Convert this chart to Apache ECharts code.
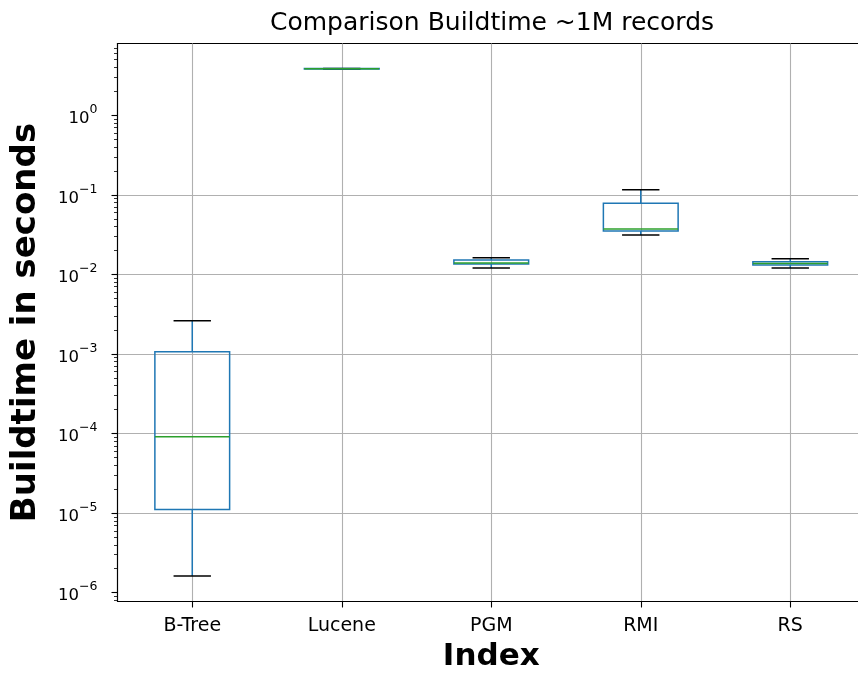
<!DOCTYPE html>
<html>
<head>
<meta charset="utf-8">
<script src="https://cdn.jsdelivr.net/npm/echarts@6/dist/echarts.min.js"></script>
<style>
  html, body { margin: 0; padding: 0; background: #ffffff; }
  #chart { width: 858px; height: 675px; }
</style>
</head>
<body>
<div id="chart"></div>
<script>
// Index structures compared
const categories = ['B-Tree', 'Lucene', 'PGM', 'RMI', 'RS'];

// Build-time distribution per index (seconds): whiskers, quartiles, median
const whiskerLow  = [1.62e-6, 3.80, 0.0120,  0.0313, 0.0120];
const quartile1   = [1.11e-5, 3.81, 0.01352, 0.0351, 0.01313];
const medians     = [9.1e-5,  3.84, 0.0139,  0.0372, 0.01375];
const quartile3   = [1.07e-3, 3.87, 0.01517, 0.0782, 0.01445];
const whiskerHigh = [2.62e-3, 3.88, 0.0162,  0.116,  0.01575];

// Decade ticks on the log axis
const majorTicks = [1e-6, 1e-5, 1e-4, 1e-3, 1e-2, 1e-1, 1];

// Minor ticks at 2..9 x 10^k
const minorTicks = [];
for (let e = -7; e <= 0; e++) {
  for (let m = 2; m <= 9; m++) minorTicks.push(+(m * Math.pow(10, e)).toPrecision(3));
}

const FONT = 'DejaVu Sans';
const BLUE = '#1f77b4';
const GREEN = '#2ca02c';
const GRID = '#b0b0b0';

const boxData = categories.map((c, i) => [i + 1, whiskerLow[i], quartile1[i], medians[i], quartile3[i], whiskerHigh[i]]);

function renderBox(params, api) {
  const x = api.value(0);
  const lo = api.coord([x, api.value(1)]);
  const q1 = api.coord([x, api.value(2)]);
  const md = api.coord([x, api.value(3)]);
  const q3 = api.coord([x, api.value(4)]);
  const hi = api.coord([x, api.value(5)]);
  const unit = api.coord([x + 1, api.value(3)])[0] - md[0];
  const boxHalf = unit * 0.25;
  const capHalf = unit * 0.125;
  const cx = md[0];
  const lw = 1.5;
  return {
    type: 'group',
    children: [
      { type: 'line', shape: { x1: cx, y1: q1[1], x2: cx, y2: lo[1] }, style: { stroke: BLUE, lineWidth: lw } },
      { type: 'line', shape: { x1: cx, y1: q3[1], x2: cx, y2: hi[1] }, style: { stroke: BLUE, lineWidth: lw } },
      { type: 'line', shape: { x1: cx - capHalf, y1: lo[1], x2: cx + capHalf, y2: lo[1] }, style: { stroke: '#000', lineWidth: lw } },
      { type: 'line', shape: { x1: cx - capHalf, y1: hi[1], x2: cx + capHalf, y2: hi[1] }, style: { stroke: '#000', lineWidth: lw } },
      { type: 'rect', shape: { x: cx - boxHalf, y: q3[1], width: 2 * boxHalf, height: q1[1] - q3[1] },
        style: { stroke: BLUE, fill: 'none', lineWidth: lw } },
      { type: 'line', shape: { x1: cx - boxHalf, y1: md[1], x2: cx + boxHalf, y2: md[1] }, style: { stroke: GREEN, lineWidth: lw } }
    ]
  };
}

function expLabel(v) {
  const e = Math.round(Math.log10(v));
  const s = e < 0 ? '\u2212' + Math.abs(e) : String(e);
  return '{b|10}{s|' + s + '}';
}

const yMin = 7.75e-7;
const yMax = 7.98;

const chart = echarts.init(document.getElementById('chart'), null, { renderer: 'canvas' });
chart.setOption({
  backgroundColor: '#ffffff',
  animation: false,
  title: {
    text: 'Comparison Buildtime ~1M records',
    left: 265,
    top: 6,
    textStyle: { fontFamily: FONT, fontSize: 25, fontWeight: 'normal', color: '#000' }
  },
  grid: {
    left: 117.5,
    right: -7,
    top: 43.5,
    bottom: 73.5,
    show: true,
    borderColor: '#000',
    borderWidth: 1.1,
    backgroundColor: 'transparent',
    outerBoundsMode: 'none'
  },
  xAxis: {
    type: 'value',
    min: 0.5,
    max: 5.5,
    name: 'Index',
    nameLocation: 'middle',
    nameGap: 40,
    nameTextStyle: { fontFamily: FONT, fontSize: 31, fontWeight: 'bold', color: '#000' },
    axisLine: { show: true, lineStyle: { color: '#000', width: 1.1 } },
    axisTick: { show: true, customValues: [1, 2, 3, 4, 5], length: 6, lineStyle: { color: '#000', width: 1.1 } },
    axisLabel: {
      customValues: [1, 2, 3, 4, 5],
      margin: 15,
      fontFamily: FONT, fontSize: 19, color: '#000',
      formatter: v => categories[Math.round(v) - 1]
    },
    splitLine: { show: true, lineStyle: { color: GRID, width: 1.1 } }
  },
  yAxis: [
    {
      type: 'log',
      min: yMin,
      max: yMax,
      name: 'Buildtime in seconds',
      nameLocation: 'middle',
      nameRotate: 90,
      nameGap: 74,
      nameTextStyle: { fontFamily: FONT, fontSize: 34, fontWeight: 'bold', color: '#000' },
      axisLine: { show: true, lineStyle: { color: '#000', width: 1.1 } },
      axisTick: { show: true, customValues: majorTicks, length: 6, lineStyle: { color: '#000', width: 1.1 } },
      axisLabel: {
        customValues: majorTicks,
        margin: 20,
        formatter: expLabel,
        rich: {
          b: { fontFamily: FONT, fontSize: 16.5, color: '#000', lineHeight: 24, verticalAlign: 'bottom' },
          s: { fontFamily: FONT, fontSize: 12.5, color: '#000', lineHeight: 24, verticalAlign: 'top' }
        }
      },
      splitLine: { show: true, showMinLine: false, showMaxLine: false, lineStyle: { color: GRID, width: 1.1 } }
    },
    {
      type: 'log',
      min: yMin,
      max: yMax,
      position: 'left',
      axisLine: { show: false },
      axisTick: { show: true, customValues: minorTicks, length: 3.5, lineStyle: { color: '#000', width: 0.8 } },
      axisLabel: { show: false },
      splitLine: { show: false }
    }
  ],
  series: [
    {
      type: 'custom',
      xAxisIndex: 0,
      yAxisIndex: 0,
      renderItem: renderBox,
      encode: { x: 0, y: [1, 2, 3, 4, 5] },
      data: boxData,
      clip: false,
      z: 5
    }
  ]
});
</script>
</body>
</html>
